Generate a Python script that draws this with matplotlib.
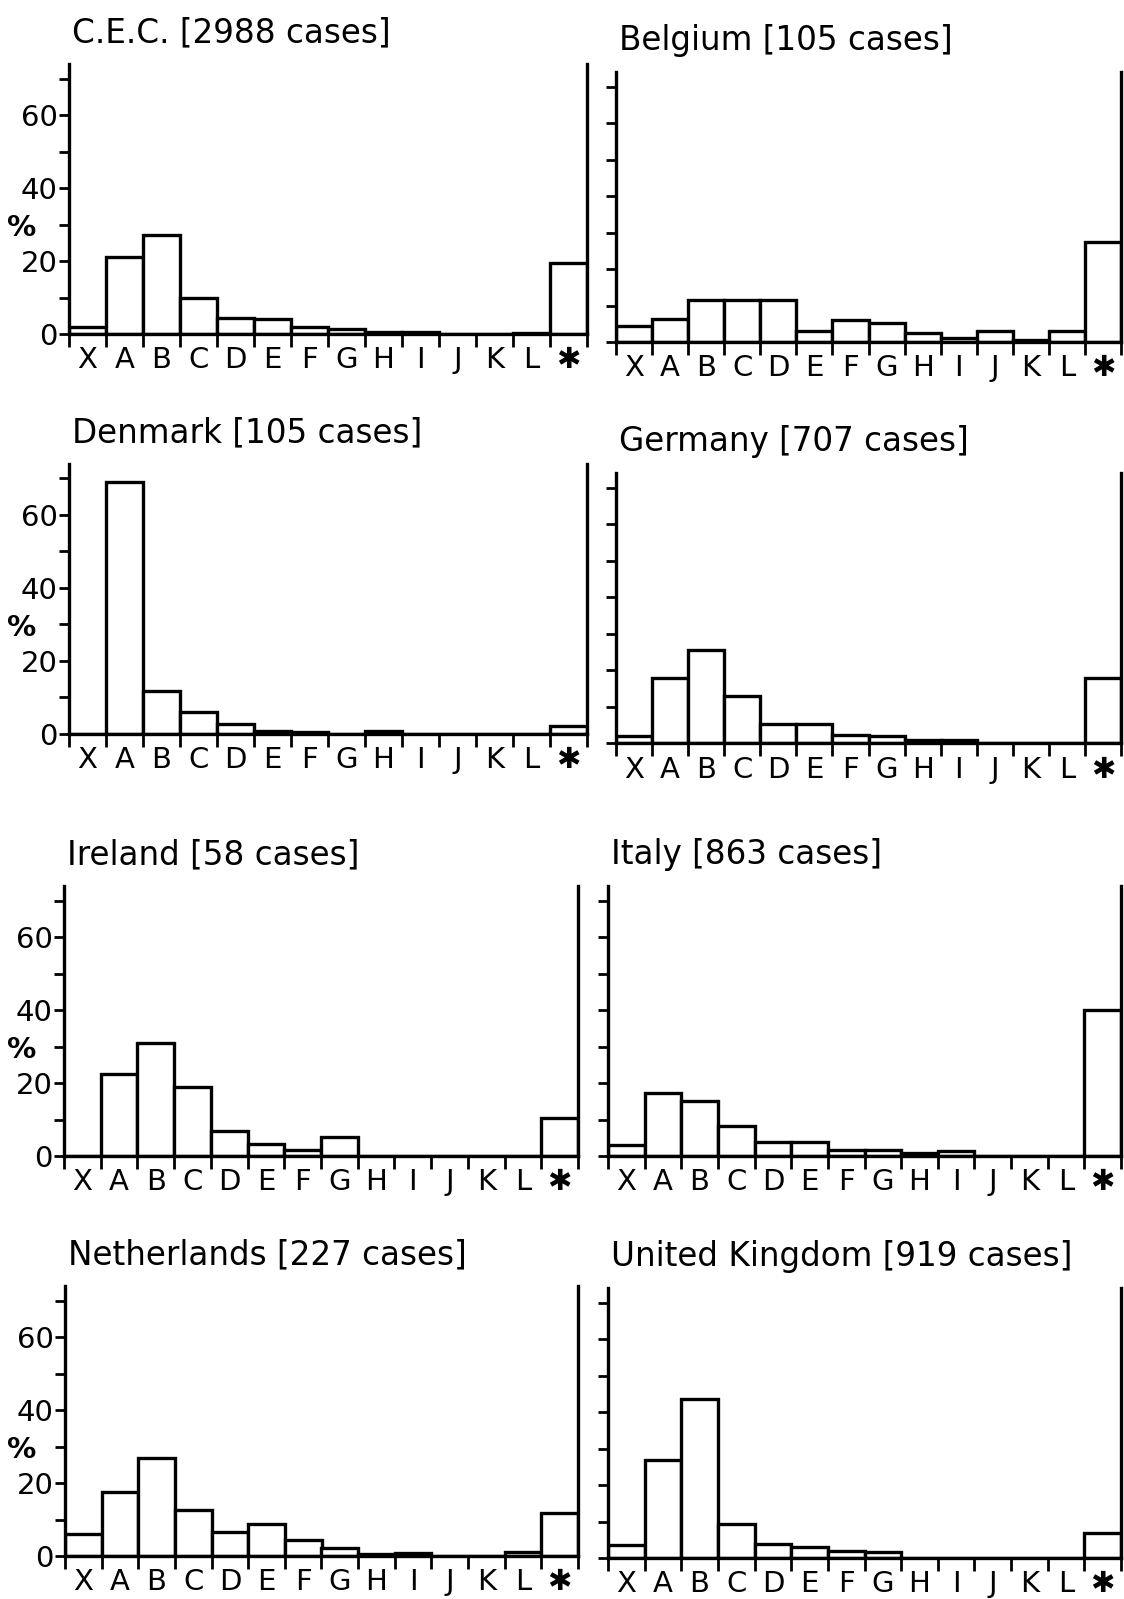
import numpy as np
import matplotlib
matplotlib.use('Agg')
import matplotlib.pyplot as plt

matplotlib.rcParams['font.family'] = ['DejaVu Sans']

# categories along the x axis, last one is the asterisk class
categories = ['X', 'A', 'B', 'C', 'D', 'E', 'F', 'G', 'H', 'I', 'J', 'K', 'L', '✱']

titles = ['C.E.C. [2988 cases]', 'Belgium [105 cases]',
          'Denmark [105 cases]', 'Germany [707 cases]',
          'Ireland [58 cases]', 'Italy [863 cases]',
          'Netherlands [227 cases]', 'United Kingdom [919 cases]']

# percentages
cec = [2.0, 21.0, 27.0, 10.0, 4.5, 4.0, 2.0, 1.5, 0.6, 0.5, 0, 0, 0.2, 19.5]
belgium = [4.5, 6.3, 11.6, 11.6, 11.6, 2.9, 5.9, 5.1, 2.4, 1.1, 3.0, 0.6, 2.9, 27.4]
denmark = [0, 69.0, 11.8, 5.9, 2.7, 0.8, 0.6, 0, 0.8, 0, 0, 0, 0, 2.3]
germany = [2.0, 17.8, 25.4, 13.0, 5.2, 5.2, 2.2, 2.0, 0.7, 0.7, 0, 0, 0, 17.8]
ireland = [0, 22.4, 31.0, 19.0, 6.9, 3.4, 1.7, 5.2, 0, 0, 0, 0, 0, 10.3]
italy = [2.9, 17.2, 15.1, 8.3, 3.9, 3.9, 1.7, 1.7, 0.9, 1.4, 0, 0, 0, 40.0]
netherlands = [6.1, 17.4, 26.8, 12.6, 6.6, 8.7, 4.4, 2.1, 0.6, 0.8, 0, 0, 1.2, 11.7]
uk = [3.5, 26.9, 43.6, 9.2, 3.9, 3.0, 1.8, 1.6, 0, 0, 0, 0, 0, 6.9]

series = [cec, belgium, denmark, germany, ireland, italy, netherlands, uk]

W, H = 1124, 1599
# panel placement in pixels: left x, right x, zero line y (from top)
boxes = [(69, 587, 334), (616, 1121, 342),
         (69, 587, 734), (616, 1121, 743),
         (64, 578, 1156), (608, 1121, 1156),
         (65, 578, 1556), (608, 1121, 1558)]
ymax = 74
px_per_unit = 3.65

fig = plt.figure(figsize=(W / 100, H / 100), dpi=100)

x = np.arange(len(categories))
for i, (vals, title, (x0, x1, y0)) in enumerate(zip(series, titles, boxes)):
    hpx = ymax * px_per_unit
    ax = fig.add_axes([x0 / W, 1 - y0 / H, (x1 - x0) / W, hpx / H])
    ax.bar(x, vals, width=1.0, color='white', edgecolor='black', linewidth=2.4)
    ax.set_xlim(-0.5, len(categories) - 0.5)
    ax.set_ylim(0, ymax)
    ax.spines['top'].set_visible(False)
    for s in ['left', 'right', 'bottom']:
        ax.spines[s].set_linewidth(2.4)

    # bin edges get the little tick marks, labels sit in the middle
    ax.set_xticks(np.arange(-0.5, len(categories) - 0.4, 1.0))
    ax.set_xticklabels([])
    ax.tick_params(axis='x', which='major', direction='out', length=9, width=2)
    ax.set_xticks(x, minor=True)
    ax.set_xticklabels(categories, minor=True, fontsize=21)
    ax.tick_params(axis='x', which='minor', length=0, pad=9)

    ax.set_yticks(np.arange(0, 71, 10))
    ax.tick_params(axis='y', direction='out', length=7, width=2, pad=1)
    if i % 2 == 0:
        ax.set_yticklabels(['0', '', '20', '', '40', '', '60', ''], fontsize=21)
        pct_x = (22 - x0) / (x1 - x0)
        ax.text(pct_x, 29, '%', fontsize=21, fontweight='bold',
                ha='center', va='center', transform=ax.get_yaxis_transform())
    else:
        ax.set_yticklabels([])

    ax.text(0.005, 1.115, title, fontsize=23.5, ha='left', va='center',
            transform=ax.transAxes)

plt.savefig('out.png', dpi=100)
